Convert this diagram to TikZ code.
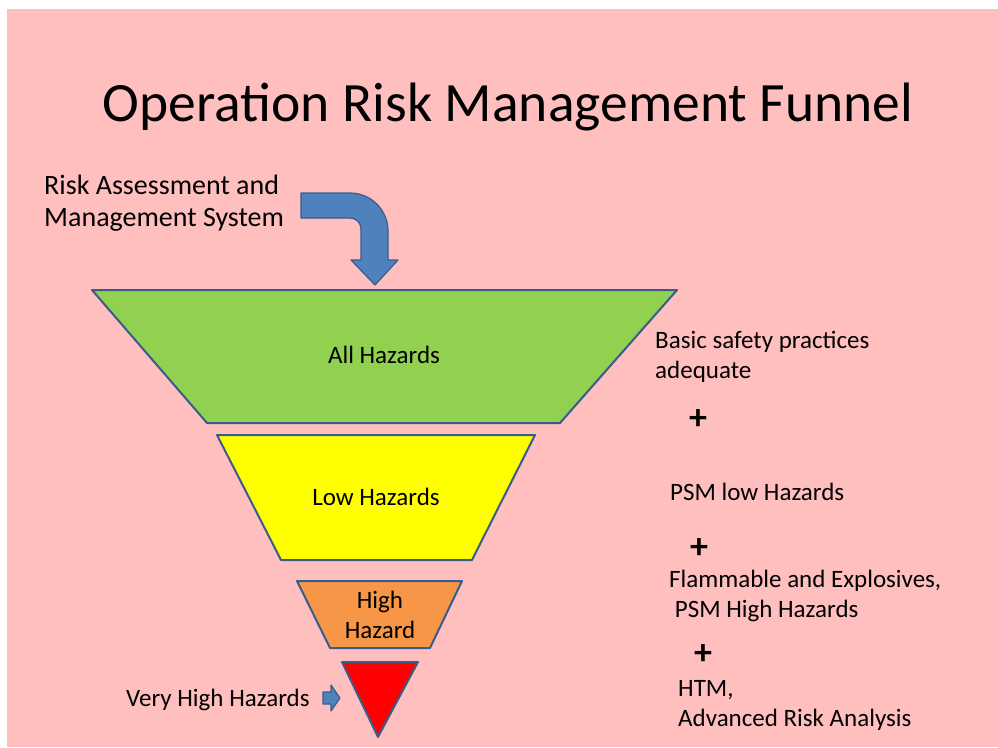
\documentclass[tikz,border=0pt]{standalone}
\usepackage{fontspec}
\setmainfont{Carlito}
\usetikzlibrary{positioning}
\definecolor{slidePink}{RGB}{255,191,191}
\definecolor{hazGreen}{RGB}{146,208,80}
\definecolor{hazYellow}{RGB}{255,255,0}
\definecolor{hazOrange}{RGB}{247,150,70}
\definecolor{hazRed}{RGB}{255,0,0}
\definecolor{edgeBlue}{RGB}{56,93,138}
\definecolor{arrowBlue}{RGB}{79,129,189}

\begin{document}
\begin{tikzpicture}[x=1pt, y=-1pt, line join=round,
    level/.style={draw=edgeBlue, line width=2pt},
    blockarrow/.style={fill=arrowBlue, draw=edgeBlue, line width=1.2pt},
    funnel label/.style={font=\fontsize{25}{30}\selectfont, align=center, inner sep=0pt},
    side label/.style={font=\fontsize{25}{30}\selectfont, align=left, anchor=base west, inner sep=0pt},
    plus sign/.style={font=\fontsize{36}{36}\selectfont\bfseries, inner sep=0pt}]
    \useasboundingbox (0,0) rectangle (998,747);
    \fill[white] (0,0) rectangle (998,747);
    \fill[slidePink] (7,9) rectangle (998,747);

    % title
    \node[anchor=base, font=\fontsize{55.5}{66}\selectfont, inner sep=0pt] (title) at (508,121) {Operation Risk Management Funnel};

    % funnel levels
    \filldraw[level, fill=hazGreen] (92,290) -- (677,290) -- (560,423) -- (207,423) -- cycle;
    \filldraw[level, fill=hazYellow] (217,435) -- (535,435) -- (472,560) -- (281,560) -- cycle;
    \filldraw[level, fill=hazOrange] (297,581) -- (462,581) -- (430,648) -- (330,648) -- cycle;
    \filldraw[level, fill=hazRed] (342,662) -- (418,662) -- (378,737) -- cycle;

    \node[funnel label] (allHaz) at (384,355) {All Hazards};
    \node[funnel label] (lowHaz) at (376,497) {Low Hazards};
    \node[funnel label] (highHaz) at (380,615) {High\\Hazard};

    % bent arrow into the funnel
    \filldraw[blockarrow] (301,193) -- (350,193) arc[start angle=-90, end angle=0, radius=38]
        -- (388,260) -- (398,260) -- (375,285) -- (351,260) -- (361,260) -- (361,229)
        arc[start angle=0, end angle=-90, radius=11] -- (301,218) -- cycle;
    \node[side label, font=\fontsize{28}{32}\selectfont] (source) at (44,226) {Risk Assessment and\\Management System};

    % very high hazards pointer
    \filldraw[blockarrow] (323,692) -- (331,692) -- (331,685) -- (340,698) -- (331,711) -- (331,704) -- (323,704) -- cycle;
    \node[side label] (veryHigh) at (126,706) {Very High Hazards};

    % right hand column
    \node[side label] (basic) at (655,378) {Basic safety practices\\adequate};
    \node[plus sign] (plusA) at (698,420) {+};
    \node[side label] (psmLow) at (670,500) {PSM low Hazards};
    \node[plus sign] (plusB) at (699,549) {+};
    \node[side label] (flammable) at (669,617) {Flammable and Explosives,\\\ PSM High Hazards};
    \node[plus sign] (plusC) at (703,655) {+};
    \node[side label] (htm) at (678,726) {HTM,\\Advanced Risk Analysis};
\end{tikzpicture}
\end{document}
